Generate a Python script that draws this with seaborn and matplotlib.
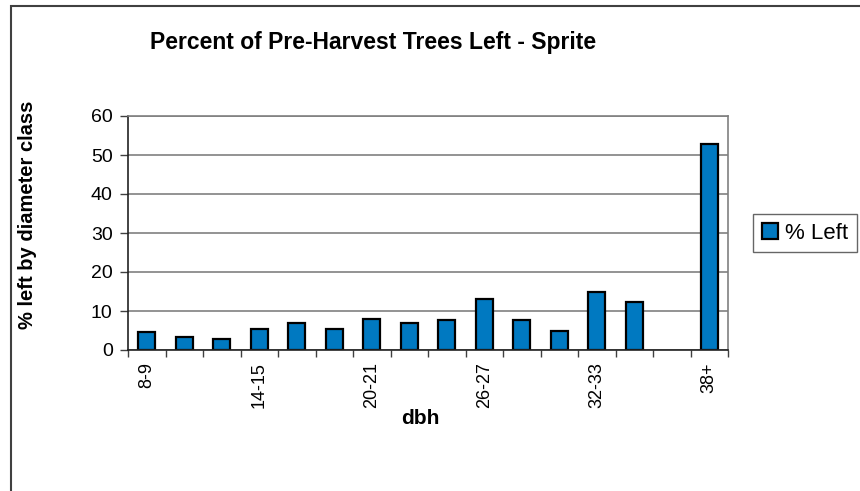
import numpy as np
import pandas as pd
import matplotlib
matplotlib.use("Agg")
import matplotlib.pyplot as plt
import seaborn as sns
from matplotlib.patches import Rectangle

### DATA ###
classes = ["8-9", "10-11", "12-13", "14-15", "16-17", "18-19", "20-21", "22-23",
           "24-25", "26-27", "28-29", "30-31", "32-33", "34-35", "36-37", "38+"]
pct_left = [4.5, 3.4, 2.9, 5.5, 7.0, 5.5, 8.0, 7.0,
            7.6, 13.1, 7.6, 5.0, 14.8, 12.2, 0.0, 52.7]
shown_labels = ["8-9", "14-15", "20-21", "26-27", "32-33", "38+"]
yticks = [0, 10, 20, 30, 40, 50, 60]

data = pd.DataFrame({"dbh": classes, "pct": pct_left, "series": "% Left"})

sns.set_theme(style="white")
plt.rcParams["font.family"] = ["Liberation Sans", "DejaVu Sans"]
plt.rcParams["text.color"] = "black"
plt.rcParams["axes.labelcolor"] = "black"
plt.rcParams["xtick.labelcolor"] = "black"
plt.rcParams["ytick.labelcolor"] = "black"

fig = plt.figure(figsize=(8.6, 4.91), dpi=100)
ax = fig.add_axes([128/860, 1-350/491, 600/860, 234/491])

#! bars
sns.barplot(x="dbh", y="pct", hue="series", data=data, order=classes,
            palette=["#0079C1"], width=0.45, edgecolor="black", linewidth=1.6,
            ax=ax, legend=True, saturation=1)
#! empty class: no outline drawn at the baseline
for p in ax.containers[0]:
    if p.get_height() == 0:
        p.set_linewidth(0)

#! axes
ax.set_xlim(-0.5, len(classes) - 0.5)
ax.set_ylim(0, 60)
ax.set_yticks(yticks)
ax.set_yticklabels([str(v) for v in yticks], fontsize=14)
pos = [classes.index(c) for c in shown_labels]
ax.set_xticks(pos)
ax.set_xticklabels(shown_labels, rotation=90, fontsize=13)
ax.set_xticks(np.arange(-0.5, len(classes), 1), minor=True)
ax.tick_params(axis="x", which="major", length=0, pad=9)
ax.tick_params(axis="x", which="minor", length=5, width=1, color="#404040", direction="out", bottom=True)
ax.tick_params(axis="y", length=6, width=1, color="#404040", direction="out", left=True, pad=5)

ax.yaxis.grid(True, color="#808080", linewidth=1.2)
ax.xaxis.grid(False)
ax.set_axisbelow(True)
for s in ["left", "bottom"]:
    ax.spines[s].set_color("#222222")
    ax.spines[s].set_linewidth(1.2)
for s in ["right", "top"]:
    ax.spines[s].set_color("#808080")
    ax.spines[s].set_linewidth(1.2)

ax.set_xlabel("dbh", fontsize=15, fontweight="bold")
ax.set_ylabel("% left by diameter class", fontsize=14.5, fontweight="bold")
ax.xaxis.set_label_coords((420-128)/600, (350-418)/234)
ax.yaxis.set_label_coords((28-128)/600, (350-215)/234)
ax.xaxis.label.set_va("center")
ax.yaxis.label.set_va("center")
fig.text(373/860, 1-42/491, "Percent of Pre-Harvest Trees Left - Sprite",
         ha="center", va="center", fontsize=16.5, fontweight="bold")

#! legend
ax.legend_.remove()
h, l = ax.get_legend_handles_labels()
leg = fig.legend(h, l, loc="center", bbox_to_anchor=(805/860, 1-233/491),
                 fontsize=16, frameon=True, fancybox=False, handlelength=0.7,
                 handleheight=0.7, handletextpad=0.3, borderpad=0.4)
leg.get_frame().set_edgecolor("#404040")
leg.get_frame().set_linewidth(1)
for hp in leg.get_patches():
    hp.set_edgecolor("black")
    hp.set_linewidth(1.6)

#! outer chart border (only left/top visible)
fig.patches.append(Rectangle((11/860, -0.1), 1.2, 1 - 6/491 + 0.1, transform=fig.transFigure,
                             fill=False, edgecolor="#404040", linewidth=1.5))

plt.savefig("out.png", dpi=100)
